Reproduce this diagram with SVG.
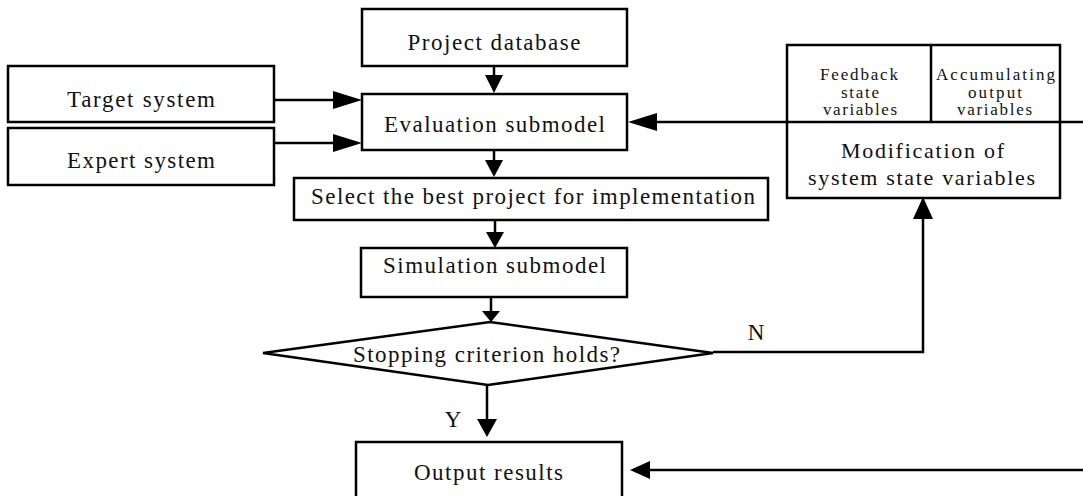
<svg xmlns="http://www.w3.org/2000/svg" width="1083" height="496" viewBox="0 0 1083 496">
<style>
.box{fill:#fff;stroke:#000;stroke-width:2.5}
.t{font-family:"Liberation Serif","Times New Roman",serif;font-size:23px;fill:#111;text-anchor:middle}
.s{font-family:"Liberation Serif","Times New Roman",serif;font-size:17px;fill:#111;text-anchor:middle}
.m{font-family:"Liberation Serif","Times New Roman",serif;font-size:22px;fill:#111;text-anchor:middle}
.ln{fill:none;stroke:#000;stroke-width:2.5}
.ah{fill:#000;stroke:none}
</style>
<rect width="1083" height="496" fill="#fff"/>
<g id="connectors">
  <line class="ln" x1="274" y1="100" x2="340" y2="100"/>
  <polygon class="ah" points="362,100 333,91 333,109"/>
  <line class="ln" x1="274" y1="143" x2="340" y2="143"/>
  <polygon class="ah" points="362,143 333,134 333,152"/>
  <line class="ln" x1="494" y1="66" x2="494" y2="80"/>
  <polygon class="ah" points="494,93 485,75 503,75"/>
  <line class="ln" x1="494" y1="150" x2="494" y2="165"/>
  <polygon class="ah" points="494,177 485,160 503,160"/>
  <line class="ln" x1="495" y1="220" x2="495" y2="236"/>
  <polygon class="ah" points="495,248 486,232 504,232"/>
  <line class="ln" x1="491" y1="297" x2="491" y2="312"/>
  <polygon class="ah" points="491,322 482,311 500,311"/>
  <line class="ln" x1="487" y1="385" x2="487" y2="422"/>
  <polygon class="ah" points="487,437 477,419 497,419"/>
  <line class="ln" x1="1083" y1="122" x2="650" y2="122"/>
  <polygon class="ah" points="628,122 657,113 657,131"/>
  <polyline class="ln" points="713,352 923,352 923,215"/>
  <polygon class="ah" points="923,197 913,219 933,219"/>
  <line class="ln" x1="1083" y1="470" x2="645" y2="470"/>
  <polygon class="ah" points="630,470 650,461 650,479"/>
  <text class="t" x="453" y="427">Y</text>
  <text class="t" x="756" y="340">N</text>
</g>
<g id="target">
  <rect class="box" x="8" y="66" width="266" height="56"/>
  <text class="t" x="141" y="107" textLength="148" lengthAdjust="spacing">Target system</text>
</g>
<g id="expert">
  <rect class="box" x="8" y="128" width="266" height="57"/>
  <text class="t" x="141" y="168" textLength="148" lengthAdjust="spacing">Expert system</text>
</g>
<g id="database">
  <rect class="box" x="362" y="9" width="265" height="57"/>
  <text class="t" x="494" y="50" textLength="173" lengthAdjust="spacing">Project database</text>
</g>
<g id="evaluation">
  <rect class="box" x="362" y="94" width="265" height="56"/>
  <text class="t" x="494.5" y="132" textLength="221" lengthAdjust="spacing">Evaluation submodel</text>
</g>
<g id="select">
  <rect class="box" x="294" y="178" width="474" height="42"/>
  <text class="t" x="533" y="204" textLength="444" lengthAdjust="spacing">Select the best project for implementation</text>
</g>
<g id="simulation">
  <rect class="box" x="361" y="248" width="266" height="49"/>
  <text class="t" x="494.5" y="273" textLength="223" lengthAdjust="spacing">Simulation submodel</text>
</g>
<g id="stopping">
  <polygon class="box" points="263,353 490,322 713,353 488,385"/>
  <text class="t" x="486.5" y="362" textLength="267" lengthAdjust="spacing">Stopping criterion holds?</text>
</g>
<g id="output">
  <rect class="box" x="356" y="442" width="266" height="70"/>
  <text class="t" x="488.5" y="480" textLength="149" lengthAdjust="spacing">Output results</text>
</g>
<g id="modification">
  <rect class="box" x="787" y="45" width="273" height="153"/>
  <line class="ln" x1="787" y1="122" x2="1060" y2="122"/>
  <line class="ln" x1="931" y1="45" x2="931" y2="122"/>
  <text class="s" x="859" y="80" textLength="78" lengthAdjust="spacing">Feedback</text>
  <text class="s" x="860" y="97.5" textLength="38" lengthAdjust="spacing">state</text>
  <text class="s" x="860" y="115" textLength="74" lengthAdjust="spacing">variables</text>
  <text class="s" x="995.5" y="80" textLength="119" lengthAdjust="spacing">Accumulating</text>
  <text class="s" x="995" y="97.5" textLength="54" lengthAdjust="spacing">output</text>
  <text class="s" x="994.5" y="115" textLength="75" lengthAdjust="spacing">variables</text>
  <text class="m" x="922.5" y="158" textLength="163" lengthAdjust="spacing">Modification of</text>
  <text class="m" x="921.5" y="185" textLength="227" lengthAdjust="spacing">system state variables</text>
</g>
</svg>
